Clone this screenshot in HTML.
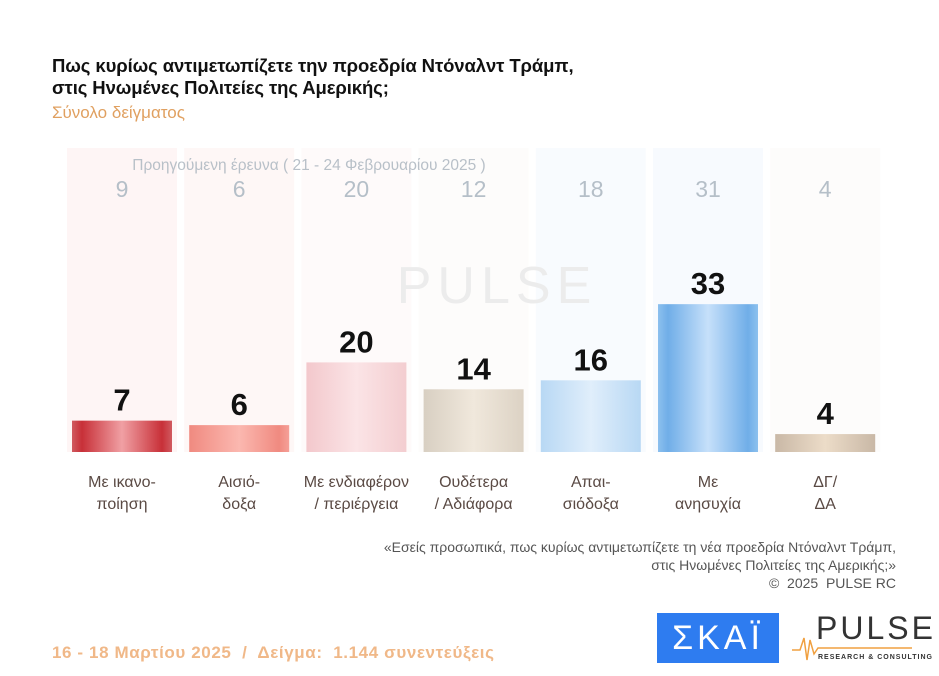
<!DOCTYPE html>
<html><head><meta charset="utf-8">
<style>
body{margin:0;background:#fff;width:939px;height:676px;overflow:hidden;position:relative;font-family:"Liberation Sans","Noto Sans CJK SC",sans-serif;}
.t{position:absolute;white-space:nowrap}
</style></head><body>
<div class="t" style="left:52px;top:55px;font-size:18.5px;font-weight:bold;line-height:22px;color:#111;letter-spacing:-0.1px">Πως κυρίως αντιμετωπίζετε την προεδρία Ντόναλντ Τράμπ,<br>στις Ηνωμένες Πολιτείες της Αμερικής;</div>
<div class="t" style="left:52px;top:103px;font-size:17px;color:#e0a060">Σύνολο δείγματος</div>
<svg id="c" width="939" height="676" style="position:absolute;left:0;top:0">
<defs>
<linearGradient id="g0" x1="0" x2="1"><stop offset="0" stop-color="#d05a60"/><stop offset=".1" stop-color="#c83038"/><stop offset=".5" stop-color="#f0a0a4"/><stop offset=".9" stop-color="#c83038"/><stop offset="1" stop-color="#d05a60"/></linearGradient>
<linearGradient id="g1" x1="0" x2="1"><stop offset="0" stop-color="#f08a80"/><stop offset=".5" stop-color="#fbb8b0"/><stop offset=".9" stop-color="#f08a80"/><stop offset="1" stop-color="#f5a098"/></linearGradient>
<linearGradient id="g2" x1="0" x2="1"><stop offset="0" stop-color="#f3c8cc"/><stop offset=".5" stop-color="#fbe4e6"/><stop offset="1" stop-color="#f3cdd0"/></linearGradient>
<linearGradient id="g3" x1="0" x2="1"><stop offset="0" stop-color="#d8cfc2"/><stop offset=".5" stop-color="#f0e8dc"/><stop offset="1" stop-color="#dcd2c4"/></linearGradient>
<linearGradient id="g4" x1="0" x2="1"><stop offset="0" stop-color="#b8d8f4"/><stop offset=".5" stop-color="#e0eefb"/><stop offset="1" stop-color="#b8d8f4"/></linearGradient>
<linearGradient id="g5" x1="0" x2="1"><stop offset="0" stop-color="#8cc0ee"/><stop offset=".1" stop-color="#70aee8"/><stop offset=".5" stop-color="#c6e0fa"/><stop offset=".9" stop-color="#70aee8"/><stop offset="1" stop-color="#8cc0ee"/></linearGradient>
<linearGradient id="g6" x1="0" x2="1"><stop offset="0" stop-color="#c9b8a6"/><stop offset=".5" stop-color="#ecdcc8"/><stop offset="1" stop-color="#c9b8a6"/></linearGradient>
</defs>
</svg>
<div class="t" style="right:43px;top:538px;text-align:right;font-size:14px;line-height:18px;color:#555">«Εσείς προσωπικά, πως κυρίως αντιμετωπίζετε τη νέα προεδρία Ντόναλντ Τράμπ,<br>στις Ηνωμένες Πολιτείες της Αμερικής;»<br>©&nbsp; 2025&nbsp; PULSE RC</div>
<div class="t" style="left:52px;top:643px;font-size:17px;font-weight:bold;color:#f0b888;letter-spacing:0.6px">16 - 18 Μαρτίου 2025&nbsp; /&nbsp; Δείγμα:&nbsp; 1.144 συνεντεύξεις</div>
<div style="position:absolute;left:657px;top:613px;width:122px;height:50px;background:#2e7cf0;color:#fff;font-size:34px;text-align:center;line-height:50px;letter-spacing:4px">ΣΚΑΪ</div>
<div style="position:absolute;left:792px;top:610px;width:140px;height:56px">
<svg width="140" height="56"><polyline points="0,40 8,40 12,28 15,50 18,30 22,44 26,38 120,38" fill="none" stroke="#f0a040" stroke-width="1.5"/></svg>
<div class="t" style="left:24px;top:0px;font-size:32px;letter-spacing:3px;color:#333;font-family:'Liberation Sans',sans-serif">PULSE</div>
<div class="t" style="left:26px;top:44px;font-size:7px;letter-spacing:1px;color:#333;font-weight:bold">RESEARCH &amp; CONSULTING</div>
</div>
<script>
const categories=["Με ικανο-|ποίηση","Αισιό-|δοξα","Με ενδιαφέρον|/ περιέργεια","Ουδέτερα|/ Αδιάφορα","Απαι-|σιόδοξα","Με|ανησυχία","ΔΓ/|ΔΑ"];
const current=[7,6,20,14,16,33,4];
const previous=[9,6,20,12,18,31,4];
const bgCols=["#fef5f5","#fef7f6","#fefafa","#fdfcfb","#f8fbfe","#f7fafe","#fdfcfb"];
const svg=document.getElementById('c');
const NS='http://www.w3.org/2000/svg';
const x0=122, step=117.2, base=452, scale=4.48;
const xc=i=>x0+i*step;
const y=v=>base-v*scale;
function mk(t,a){const e=document.createElementNS(NS,t);for(const k in a)e.setAttribute(k,a[k]);svg.appendChild(e);return e;}
categories.forEach((c,i)=>{
  const bg=mk('rect',{x:xc(i)-55,y:148,width:110,height:304,fill:bgCols[i]});
  
  
});
const wm=mk('text',{x:497,y:303,'text-anchor':'middle','font-size':52,fill:'#ececec','font-family':'Liberation Sans,sans-serif','letter-spacing':6});
wm.textContent='PULSE';


const pl=mk('text',{x:309,y:170,'text-anchor':'middle','font-size':15.5,fill:'#b8c0c8'});
pl.textContent='Προηγούμενη έρευνα ( 21 - 24 Φεβρουαρίου 2025 )';


categories.forEach((c,i)=>{
  const p=mk('text',{x:xc(i),y:197,'text-anchor':'middle','font-size':23,fill:'#b5bfc8'});
  p.textContent=previous[i];
  
  
  const b=mk('rect',{x:xc(i)-50,y:y(current[i]),width:100,height:current[i]*scale,fill:'url(#g'+i+')'});
  
  
  const v=mk('text',{x:xc(i),y:y(current[i])-10,'text-anchor':'middle','font-size':31,'font-weight':'bold',fill:'#111'});
  v.textContent=current[i];
  
  
  c.split('|').forEach((ln,j)=>{
    const l=mk('text',{x:xc(i),y:487+j*22,'text-anchor':'middle','font-size':16,fill:'#5a4a44'});
    l.textContent=ln;
    
    
  });
});
</script>
</body></html>
